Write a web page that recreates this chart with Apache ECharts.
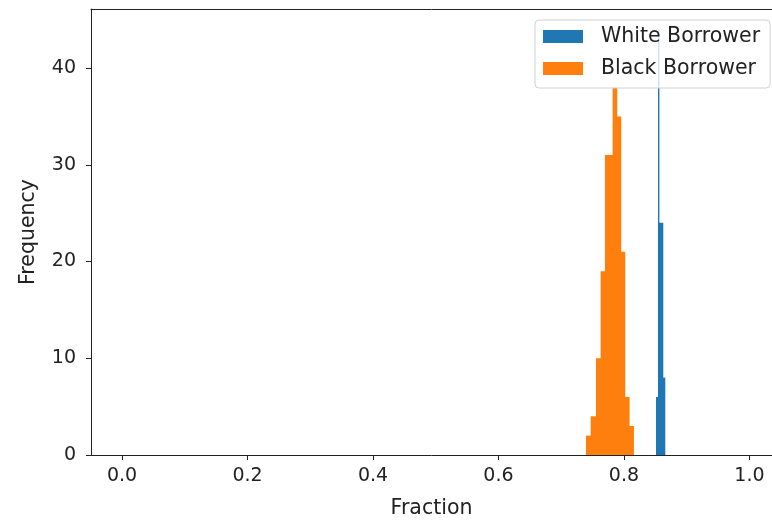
<!DOCTYPE html>
<html>
<head>
<meta charset="utf-8">
<script src="https://cdn.jsdelivr.net/npm/echarts@6/dist/echarts.min.js"></script>
<style>
  html, body { margin: 0; padding: 0; background: #fff; }
  #chart { width: 772px; height: 520px; }
</style>
</head>
<body>
<div id="chart"></div>
<script>
// histogram bins (edges in fraction units, counts per bin)
const whiteEdges = [0.8510, 0.8542, 0.8555, 0.8617, 0.8649];
const whiteCounts = [6, 44, 24, 8];
const blackEdges = [0.7394, 0.7469, 0.7554, 0.7628, 0.7697, 0.7819, 0.7883, 0.7947, 0.8011, 0.8080, 0.8149];
const blackCounts = [2, 4, 10, 19, 31, 38, 35, 21, 6, 3];
const xTicks = [0, 0.2, 0.4, 0.6, 0.8, 1.0];
const yTicks = [0, 10, 20, 30, 40];

function bins(edges, counts) {
    let out = [];
    counts.forEach((c, i) => {
        out.push([edges[i], edges[i + 1], c]);
    });
    return out;
}

function renderBar(params, api) {
    let p0 = api.coord([api.value(0), api.value(2)]);
    let p1 = api.coord([api.value(1), 0]);
    // small overlap so neighbouring bins don't leave a light seam
    return {
        type: "rect",
        shape: { x: p0[0], y: p0[1], width: p1[0] - p0[0] + 0.6, height: p1[1] - p0[1] },
        style: { fill: api.visual("color"), stroke: null, lineWidth: 0 }
    };
}

const font = "DejaVu Sans";
const ink = "#222";

let chart = echarts.init(document.getElementById("chart"), null, { renderer: "canvas" });
chart.setOption({
    animation: false,
    grid: { left: 91, top: 9, right: 0, bottom: 65, containLabel: false, outerBoundsMode: "none" },
    legend: {
        orient: "vertical",
        left: 535,
        top: 20,
        padding: [6, 10, 9, 8],
        itemGap: 11,
        itemWidth: 40,
        itemHeight: 13,
        icon: "rect",
        backgroundColor: "rgba(255,255,255,0.8)",
        borderColor: "#d0d0d0",
        borderWidth: 1,
        borderRadius: 4,
        textStyle: { fontFamily: font, fontSize: 20.5, color: ink, padding: [0, 0, 0, 13], lineHeight: 21 },
        data: ["White Borrower", "Black Borrower"]
    },
    xAxis: [
        {
            type: "value",
            min: -0.0494,
            max: 1.0359,
            name: "Fraction",
            nameLocation: "middle",
            nameGap: 43,
            nameTextStyle: { fontFamily: font, fontSize: 20.5, color: ink },
            splitLine: { show: false },
            axisLine: { show: true, lineStyle: { color: ink, width: 1 } },
            axisTick: { show: true, length: 5, customValues: xTicks, lineStyle: { color: ink } },
            axisLabel: {
                customValues: xTicks,
                margin: 12,
                fontFamily: font,
                fontSize: 19,
                color: ink,
                formatter: v => v.toFixed(1)
            }
        },
        {
            type: "value",
            position: "top",
            min: -0.0494,
            max: 1.0359,
            splitLine: { show: false },
            axisLine: { show: true, lineStyle: { color: ink, width: 1 } },
            axisTick: { show: false },
            axisLabel: { show: false }
        }
    ],
    yAxis: {
        type: "value",
        min: 0,
        max: 46.1,
        name: "Frequency",
        nameLocation: "middle",
        nameGap: 52,
        nameTextStyle: { fontFamily: font, fontSize: 20.5, color: ink },
        splitLine: { show: false },
        axisLine: { show: true, onZero: false, lineStyle: { color: ink, width: 1 } },
        axisTick: { show: true, length: 5, customValues: yTicks, lineStyle: { color: ink } },
        axisLabel: { customValues: yTicks, margin: 15, fontFamily: font, fontSize: 19, color: ink }
    },
    series: [
        {
            name: "White Borrower",
            type: "custom",
            renderItem: renderBar,
            itemStyle: { color: "#1f77b4" },
            encode: { x: [0, 1], y: 2 },
            data: bins(whiteEdges, whiteCounts)
        },
        {
            name: "Black Borrower",
            type: "custom",
            renderItem: renderBar,
            itemStyle: { color: "#ff7f0e" },
            encode: { x: [0, 1], y: 2 },
            data: bins(blackEdges, blackCounts)
        }
    ]
});
window.addEventListener("resize", function() {
    chart.resize();
});
</script>
</body>
</html>
